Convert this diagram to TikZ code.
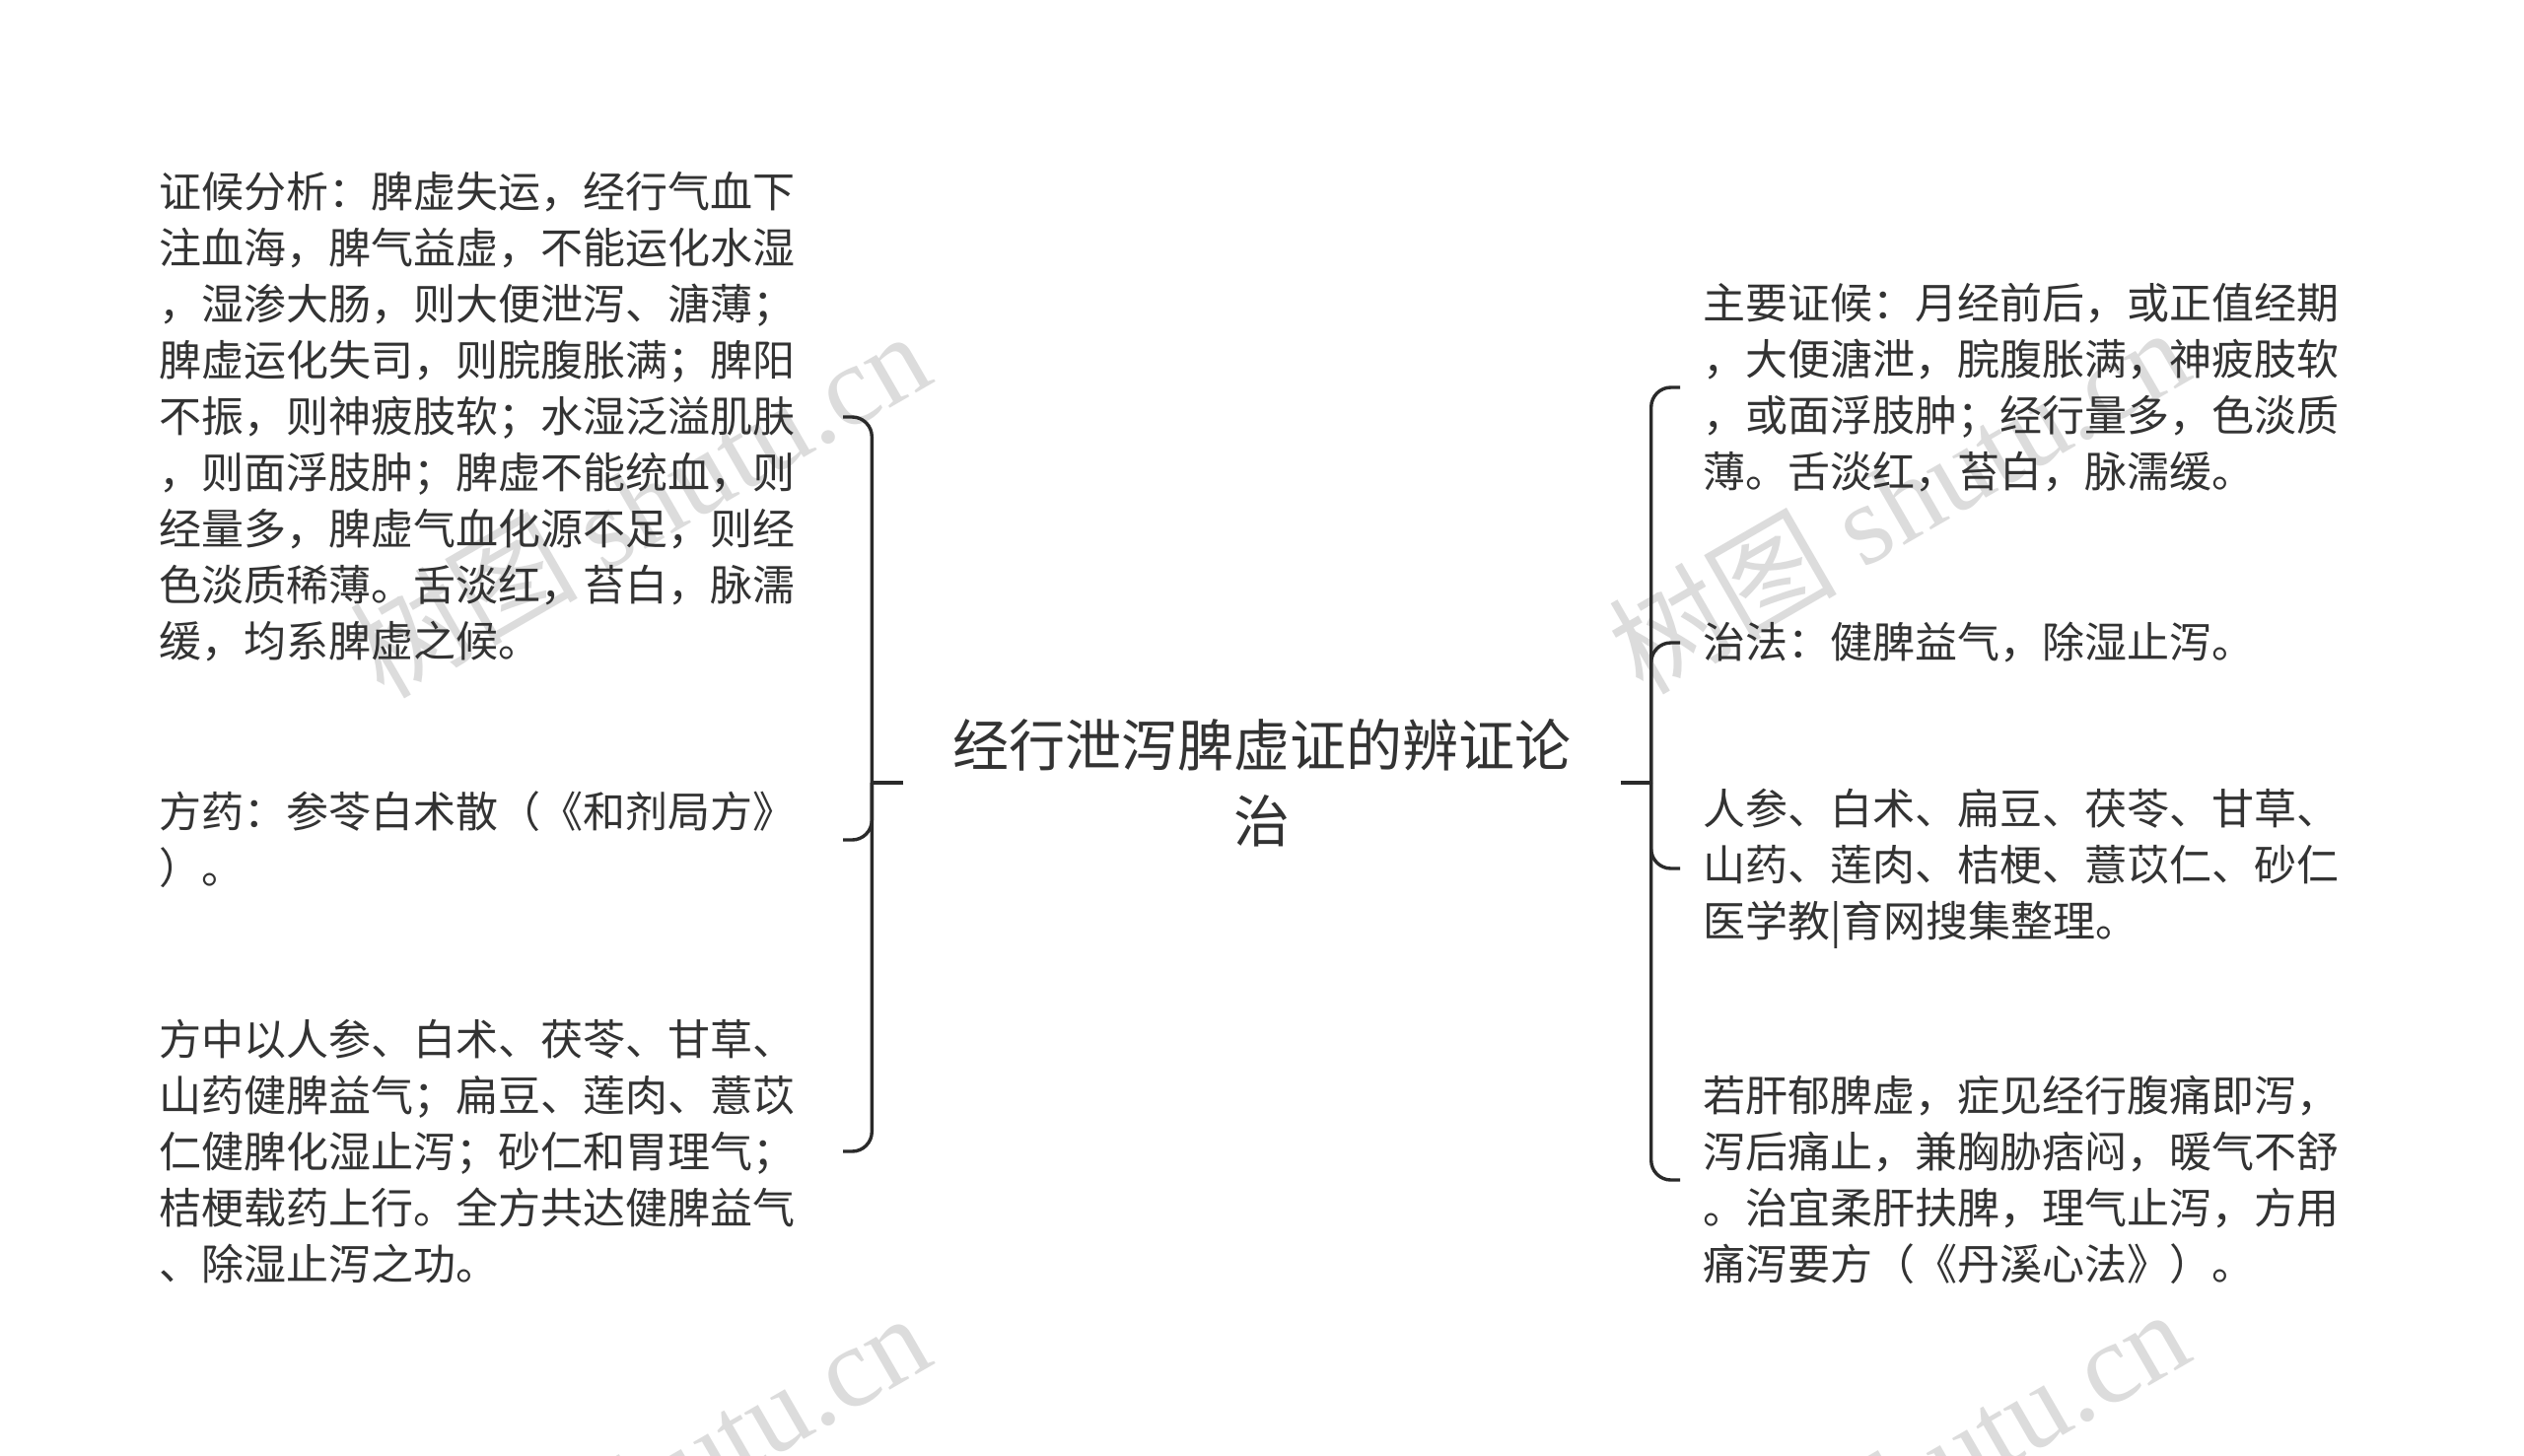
\documentclass[tikz,border=0pt]{standalone}
\usepackage{fontspec}
\setmainfont{Noto Sans CJK SC}
\newfontfamily\wmlatin{Liberation Serif}
\usepackage{xcolor}
\usetikzlibrary{positioning}
\definecolor{ink}{HTML}{333333}
\definecolor{linkgray}{HTML}{2A2A2A}
\definecolor{markgray}{HTML}{DCDCDC}

\begin{document}
\begin{tikzpicture}[x=1pt, y=-1pt,
  topic/.style={align=center, text=ink, inner xsep=50pt, inner ysep=0pt,
    font=\fontsize{57}{77}\selectfont},
  leaf/.style={align=left, text=ink, text width=646pt, inner ysep=0pt,
    font=\fontsize{43}{57}\selectfont},
  lleaf/.style={leaf, anchor=east, inner xsep=47pt},
  rleaf/.style={leaf, anchor=west, inner xsep=23pt},
  branch/.style={draw=linkgray, line width=3.4pt, rounded corners=20pt},
  wmark/.style={text=markgray, rotate=30, font=\fontsize{116}{116}\selectfont}]
  \useasboundingbox (0,0) rectangle (2560,1476);
  \clip (0,0) rectangle (2560,1476);
  \fill[white] (0,0) rectangle (2560,1476);

  % watermarks behind everything
  \node[wmark] (wm1) at (648,510) {树图 {\wmlatin shutu.cn}};
  \node[wmark] (wm2) at (1925,506) {树图 {\wmlatin shutu.cn}};
  \node[wmark] (wm3) at (648,1506) {树图 {\wmlatin shutu.cn}};
  \node[wmark] (wm4) at (1925,1502) {树图 {\wmlatin shutu.cn}};

  \node[topic] (root) at (1280,794) {经行泄泻脾虚证的辨证论\\治};

  % left side
  \node[lleaf] (syn) at (855,423) {证候分析：脾虚失运，经行气血下\\
    注血海，脾气益虚，不能运化水湿\\，湿渗大肠，则大便泄泻、溏薄；\\
    脾虚运化失司，则脘腹胀满；脾阳\\不振，则神疲肢软；水湿泛溢肌肤\\
    ，则面浮肢肿；脾虚不能统血，则\\经量多，脾虚气血化源不足，则经\\
    色淡质稀薄。舌淡红，苔白，脉濡\\缓，均系脾虚之候。};
  \node[lleaf] (rx) at (855,852) {方药：参苓白术散（《和剂局方》\\）。};
  \node[lleaf] (expl) at (855,1168) {方中以人参、白术、茯苓、甘草、\\
    山药健脾益气；扁豆、莲肉、薏苡\\仁健脾化湿止泻；砂仁和胃理气；\\
    桔梗载药上行。全方共达健脾益气\\、除湿止泻之功。};

  % right side
  \node[rleaf] (sign) at (1704,393) {主要证候：月经前后，或正值经期\\
    ，大便溏泄，脘腹胀满，神疲肢软\\，或面浮肢肿；经行量多，色淡质\\
    薄。舌淡红，苔白，脉濡缓。};
  \node[rleaf] (rule) at (1704,652) {治法：健脾益气，除湿止泻。};
  \node[rleaf] (herb) at (1704,881) {人参、白术、扁豆、茯苓、甘草、\\
    山药、莲肉、桔梗、薏苡仁、砂仁\\医学教|育网搜集整理。};
  \node[rleaf] (liver) at (1704,1197) {若肝郁脾虚，症见经行腹痛即泻，\\
    泻后痛止，兼胸胁痞闷，暖气不舒\\。治宜柔肝扶脾，理气止泻，方用\\
    痛泻要方（《丹溪心法》）。};

  % brackets
  \coordinate (lj) at ([xshift=-32pt]root.west);
  \coordinate (rj) at ([xshift=31pt]root.east);
  \draw[branch] (root.west) -- (lj);
  \draw[branch] (root.east) -- (rj);
  \foreach \n in {syn,rx,expl} \draw[branch] (lj) |- (\n.east);
  \foreach \n in {sign,rule,herb,liver} \draw[branch] (rj) |- (\n.west);
\end{tikzpicture}
\end{document}
